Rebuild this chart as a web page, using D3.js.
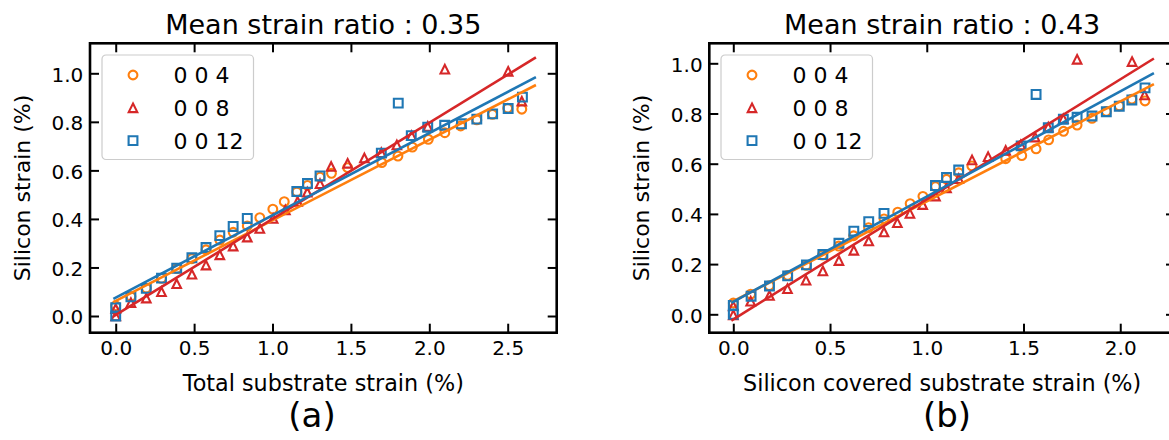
<!DOCTYPE html>
<html>
<head>
<meta charset="utf-8">
<script src="https://cdn.jsdelivr.net/npm/d3@7"></script>
<style>
  html, body { margin: 0; padding: 0; background: #fff; }
  svg { display: block; font-family: "DejaVu Sans", sans-serif; }
</style>
</head>
<body>
<svg id="chart" width="1169" height="440"></svg>
<script>
// ---- reflection labels and colours ----
const seriesNames = ["0 0 4", "0 0 8", "0 0 12"];
const seriesColors = ["#ff7f0e", "#d62728", "#1f77b4"];
const seriesShapes = ["circle", "triangle", "square"];

// ---- panel (a): total substrate strain ----
const a004x = [0, 0.097, 0.195, 0.292, 0.389, 0.486, 0.576, 0.664, 0.749, 0.839, 0.919, 1.002, 1.075, 1.155, 1.223, 1.303, 1.376, 1.479, 1.697, 1.8, 1.892, 1.994, 2.099, 2.2, 2.303, 2.403, 2.5, 2.59];
const a004y = [0.042, 0.08, 0.115, 0.155, 0.195, 0.236, 0.273, 0.313, 0.345, 0.371, 0.405, 0.44, 0.471, 0.511, 0.538, 0.572, 0.588, 0.611, 0.632, 0.659, 0.696, 0.728, 0.755, 0.783, 0.808, 0.831, 0.856, 0.852];
const a008x = [0, 0, 0.097, 0.195, 0.292, 0.389, 0.486, 0.576, 0.664, 0.749, 0.839, 0.919, 1.004, 1.082, 1.16, 1.222, 1.303, 1.374, 1.479, 1.586, 1.694, 1.793, 1.887, 1.99, 2.099, 2.503, 2.59];
const a008y = [0.0, 0.03, 0.055, 0.074, 0.1, 0.133, 0.172, 0.21, 0.252, 0.288, 0.325, 0.361, 0.402, 0.437, 0.472, 0.51, 0.545, 0.616, 0.629, 0.651, 0.673, 0.705, 0.743, 0.781, 1.017, 1.008, 0.885];
const a012x = [0, 0, 0.097, 0.195, 0.292, 0.389, 0.486, 0.576, 0.664, 0.749, 0.839, 1.155, 1.223, 1.303, 1.694, 1.802, 1.885, 1.99, 2.098, 2.205, 2.303, 2.404, 2.503, 2.594];
const a012y = [0.0, 0.034, 0.079, 0.114, 0.156, 0.197, 0.24, 0.282, 0.331, 0.369, 0.402, 0.513, 0.546, 0.577, 0.671, 0.877, 0.743, 0.778, 0.786, 0.792, 0.811, 0.833, 0.855, 0.902];
// linear fits: [intercept, slope] per reflection, drawn over the fit range
const aFitIntercept = [0.062, 0.004, 0.076];
const aFitSlope = [0.332, 0.396, 0.339];
const aFitRange = [-0.015, 2.68];

// ---- panel (b): silicon covered substrate strain ----
const b004x = [0, 0.09, 0.186, 0.281, 0.377, 0.461, 0.545, 0.622, 0.699, 0.779, 0.85, 0.914, 0.98, 1.045, 1.102, 1.165, 1.233, 1.408, 1.491, 1.565, 1.63, 1.707, 1.777, 1.854, 1.928, 1.995, 2.06, 2.128];
const b004y = [0.045, 0.08, 0.114, 0.155, 0.195, 0.236, 0.272, 0.313, 0.345, 0.38, 0.407, 0.441, 0.47, 0.509, 0.538, 0.564, 0.591, 0.62, 0.632, 0.659, 0.695, 0.729, 0.754, 0.781, 0.808, 0.83, 0.857, 0.85];
const b008x = [0, 0, 0.09, 0.187, 0.28, 0.376, 0.463, 0.546, 0.623, 0.7, 0.779, 0.848, 0.913, 0.979, 1.045, 1.102, 1.165, 1.234, 1.317, 1.408, 1.486, 1.56, 1.628, 1.706, 1.777, 2.061, 2.126];
const b008y = [-0.002, 0.033, 0.052, 0.075, 0.102, 0.136, 0.173, 0.214, 0.255, 0.292, 0.328, 0.365, 0.402, 0.437, 0.471, 0.504, 0.54, 0.615, 0.628, 0.653, 0.675, 0.706, 0.746, 0.779, 1.016, 1.007, 0.874];
const b012x = [0, 0, 0.092, 0.187, 0.281, 0.378, 0.463, 0.546, 0.623, 0.7, 0.779, 1.045, 1.102, 1.165, 1.488, 1.565, 1.628, 1.706, 1.777, 1.854, 1.928, 1.995, 2.06, 2.128];
const b012y = [0.0, 0.035, 0.072, 0.113, 0.153, 0.197, 0.238, 0.283, 0.331, 0.369, 0.402, 0.513, 0.545, 0.575, 0.671, 0.876, 0.743, 0.777, 0.785, 0.79, 0.807, 0.829, 0.854, 0.902];
const bFitIntercept = [0.052, -0.02, 0.05];
const bFitSlope = [0.398, 0.478, 0.419];
const bFitRange = [-0.01, 2.174];

// ---- axis ticks and text ----
const yTicks = [0.0, 0.2, 0.4, 0.6, 0.8, 1.0];
const aXTicks = [0.0, 0.5, 1.0, 1.5, 2.0, 2.5];
const bXTicks = [0.0, 0.5, 1.0, 1.5, 2.0];
const titles = ["Mean strain ratio : 0.35", "Mean strain ratio : 0.43"];
const xLabels = ["Total substrate strain (%)", "Silicon covered substrate strain (%)"];
const yLabel = "Silicon strain (%)";
const panelTags = ["(a)", "(b)"];

const svg = d3.select("#chart");
svg.append("rect").attr("width", 1169).attr("height", 440).attr("fill", "#fff");

const fmt = d3.format(".1f");
const tickLen = 9;

function markerPath(shape) {
  if (shape === "circle") {
    const r = 4.4;
    return `M${r},0A${r},${r} 0 1,1 ${-r},0A${r},${r} 0 1,1 ${r},0Z`;
  }
  if (shape === "square") {
    const h = 4.4;
    return `M${-h},${-h}H${h}V${h}H${-h}Z`;
  }
  const s = 4.3;
  return `M0,${-s}L${s},${s}L${-s},${s}Z`;
}

function drawPanel(cfg) {
  const { left, right, top, bottom, xDomain, yDomain, xTicks, series, fits, fitRange,
          title, xLabel, tag, yLabelX, tagX, legendX } = cfg;
  const x = d3.scaleLinear().domain(xDomain).range([left, right]);
  const y = d3.scaleLinear().domain(yDomain).range([bottom, top]);
  const g = svg.append("g");

  // data markers
  series.forEach((s, i) => {
    g.append("g").selectAll("path")
      .data(d3.zip(s.x, s.y))
      .join("path")
      .attr("transform", d => `translate(${x(d[0])},${y(d[1])})`)
      .attr("d", markerPath(seriesShapes[i]))
      .attr("fill", "none")
      .attr("stroke", seriesColors[i])
      .attr("stroke-width", 2.1);
  });

  // linear fits
  const line = d3.line().x(d => x(d[0])).y(d => y(d[1]));
  fits.intercept.forEach((b0, i) => {
    const b1 = fits.slope[i];
    g.append("path")
      .datum(fitRange.map(v => [v, b0 + b1 * v]))
      .attr("d", line)
      .attr("fill", "none")
      .attr("stroke", seriesColors[i])
      .attr("stroke-width", 2.6);
  });

  // axes with inward ticks on all four sides
  const axB = g.append("g").attr("transform", `translate(0,${bottom})`)
    .call(d3.axisBottom(x).tickValues(xTicks).tickFormat(fmt).tickSize(-tickLen).tickPadding(8));
  const axT = g.append("g").attr("transform", `translate(0,${top})`)
    .call(d3.axisTop(x).tickValues(xTicks).tickFormat("").tickSize(-tickLen));
  const axL = g.append("g").attr("transform", `translate(${left},0)`)
    .call(d3.axisLeft(y).tickValues(yTicks).tickFormat(fmt).tickSize(-tickLen).tickPadding(6.7));
  const axR = g.append("g").attr("transform", `translate(${right},0)`)
    .call(d3.axisRight(y).tickValues(yTicks).tickFormat("").tickSize(-tickLen));
  [axB, axT, axL, axR].forEach(ax => {
    ax.select(".domain").remove();
    ax.selectAll(".tick line").attr("stroke", "#000").attr("stroke-width", 2);
    ax.selectAll(".tick text").attr("fill", "#000")
      .style("font-family", "DejaVu Sans").style("font-size", "20px");
  });
  axL.selectAll(".tick text").attr("dy", "0.39em");

  // frame
  g.append("rect")
    .attr("x", left).attr("y", top)
    .attr("width", right - left).attr("height", bottom - top)
    .attr("fill", "none").attr("stroke", "#000").attr("stroke-width", 2.6);

  // legend
  const lg = g.append("g").attr("transform", `translate(${legendX},55)`);
  lg.append("rect")
    .attr("x", 0).attr("y", 0).attr("width", 151.5).attr("height", 104.5)
    .attr("rx", 4).attr("ry", 4)
    .attr("fill", "#fff").attr("fill-opacity", 0.8)
    .attr("stroke", "#cccccc").attr("stroke-width", 1.2);
  seriesNames.forEach((name, i) => {
    const ry = 20 + i * 32.8;
    lg.append("path")
      .attr("transform", `translate(31,${ry})`)
      .attr("d", markerPath(seriesShapes[i]))
      .attr("fill", "none").attr("stroke", seriesColors[i]).attr("stroke-width", 2.1);
    lg.append("text")
      .attr("x", 71.5).attr("y", ry + 8)
      .style("font-size", "22px")
      .text(name);
  });

  // texts
  const cx = (left + right) / 2;
  svg.append("text").attr("x", cx).attr("y", 34).attr("text-anchor", "middle")
    .style("font-size", "27px").text(title);
  svg.append("text").attr("x", cx).attr("y", 391).attr("text-anchor", "middle")
    .style("font-size", "22.3px").text(xLabel);
  svg.append("text").attr("transform", `translate(${yLabelX},${(top + bottom) / 2}) rotate(-90)`)
    .attr("text-anchor", "middle").style("font-size", "22px").text(yLabel);
  svg.append("text").attr("x", tagX).attr("y", 427).attr("text-anchor", "middle")
    .style("font-size", "34px").text(tag);
}

drawPanel({
  left: 90, right: 556.7, top: 43.3, bottom: 332.7,
  xDomain: [-0.164, 2.8125], yDomain: [-0.0688, 1.1236],
  xTicks: aXTicks,
  series: [{ x: a004x, y: a004y }, { x: a008x, y: a008y }, { x: a012x, y: a012y }],
  fits: { intercept: aFitIntercept, slope: aFitSlope }, fitRange: aFitRange,
  title: titles[0], xLabel: xLabels[0], tag: panelTags[0],
  yLabelX: 29.7, tagX: 312, legendX: 102
});

drawPanel({
  left: 709.3, right: 1175, top: 43.3, bottom: 332.7,
  xDomain: [-0.124, 2.283], yDomain: [-0.0733, 1.0797],
  xTicks: bXTicks,
  series: [{ x: b004x, y: b004y }, { x: b008x, y: b008y }, { x: b012x, y: b012y }],
  fits: { intercept: bFitIntercept, slope: bFitSlope }, fitRange: bFitRange,
  title: titles[1], xLabel: xLabels[1], tag: panelTags[1],
  yLabelX: 649.4, tagX: 947, legendX: 721
});
</script>
</body>
</html>
